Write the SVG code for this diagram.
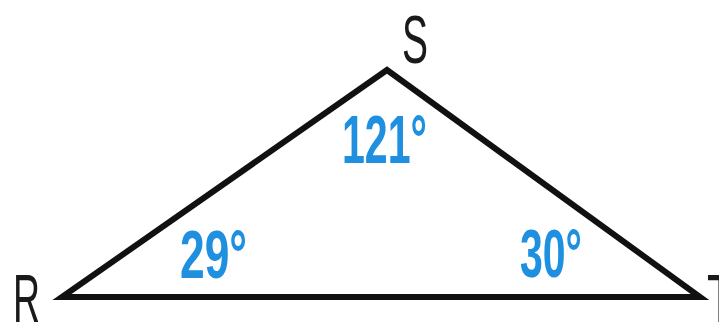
<svg xmlns="http://www.w3.org/2000/svg" width="719" height="324" viewBox="0 0 719 324">
<style>
.lbl{font-family:"Liberation Sans Narrow","Liberation Sans",Arial,sans-serif;font-size:69px;fill:#1a1a1a}
.ang{font-family:"Liberation Sans Narrow","Liberation Sans",Arial,sans-serif;font-size:69px;fill:#1f8fe0;font-weight:bold}
</style>
<rect width="719" height="324" fill="#fff"/>
<g id="connectors">
<polygon points="62,297 387,70 700,297" fill="none" stroke="#111" stroke-width="6" stroke-linejoin="miter" stroke-miterlimit="10"/>
</g>
<g id="R"><text class="lbl" x="13" y="322" textLength="27" lengthAdjust="spacingAndGlyphs">R</text></g>
<g id="S"><text class="lbl" x="402" y="63" textLength="26" lengthAdjust="spacingAndGlyphs">S</text></g>
<g id="T"><text class="lbl" x="707" y="322" textLength="27" lengthAdjust="spacingAndGlyphs">T</text></g>
<g id="angleS"><text class="ang" x="342" y="163" textLength="85" lengthAdjust="spacingAndGlyphs">121°</text></g>
<g id="angleR"><text class="ang" x="180" y="278" textLength="67" lengthAdjust="spacingAndGlyphs">29°</text></g>
<g id="angleT"><text class="ang" x="520" y="277" textLength="62" lengthAdjust="spacingAndGlyphs">30°</text></g>
</svg>
